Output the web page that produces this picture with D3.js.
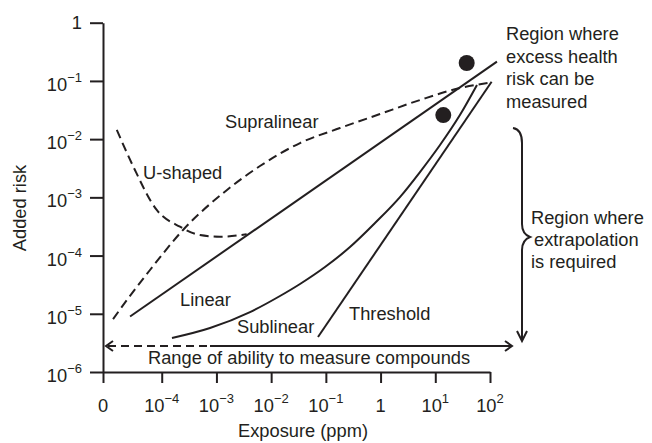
<!DOCTYPE html>
<html><head><meta charset="utf-8">
<script src="https://cdn.jsdelivr.net/npm/d3@7"></script>
<style>
body{margin:0;background:#fff;}
svg{display:block;font-family:"Liberation Sans",Arial,Helvetica,sans-serif;}
</style></head><body>
<svg id="chart" width="652" height="443"></svg>
<script>
// ---- data ----
const xTickValues = [1e-4, 1e-3, 1e-2, 1e-1, 1, 1e1, 1e2];
const xTickBase = ["10", "10", "10", "10", "1", "10", "10"];
const xTickSup  = ["−4", "−3", "−2", "−1", "", "1", "2"];
const yTickValues = [1e-6, 1e-5, 1e-4, 1e-3, 1e-2, 1e-1, 1];
const yTickBase = ["10", "10", "10", "10", "10", "10", "1"];
const yTickSup  = ["−6", "−5", "−4", "−3", "−2", "−1", ""];

const linearX = [2.64e-5, 134];
const linearY = [8.97e-6, 0.214];
const supraX = [1.29e-5, 2.32e-5, 6.11e-5, 2.45e-4, 1.56e-3, 6.25e-3, 0.0337, 0.181, 0.975, 5.25, 28.2, 104];
const supraY = [8.12e-6, 1.73e-5, 5.65e-5, 2.75e-4, 1.34e-3, 3.45e-3, 8.57e-3, 0.0155, 0.0270, 0.0470, 0.0755, 0.0938];
const uX = [1.51e-5, 3.03e-5, 8.11e-5, 2.16e-4, 5.01e-4, 1.16e-3, 3.57e-3];
const uY = [0.0144, 3.36e-3, 6.07e-4, 3.13e-4, 2.25e-4, 2.11e-4, 2.32e-4];
const subX = [1.54e-4, 7.64e-4, 4.11e-3, 0.0145, 0.0337, 0.0964, 0.276, 0.791, 2.26, 5.25, 12.2, 28.2, 57.8];
const subY = [3.84e-6, 5.70e-6, 1.07e-5, 2.02e-5, 3.25e-5, 6.36e-5, 1.40e-4, 3.62e-4, 1.01e-3, 2.72e-3, 7.92e-3, 0.0259, 0.0851];
const threshX = [0.0718, 107];
const threshY = [3.99e-6, 0.0968];
const pointX = [37.5, 14.0];
const pointY = [0.203, 0.0259];

// ---- layout ----
const ink = "#231f20";
const FS = 18.3;
const xOrigin = 8.45e-6; // position of the "0" tick (axis origin)
const svg = d3.select("#chart");
const x = d3.scaleLog().domain([xOrigin, 1e2]).range([103, 490]);
const y = d3.scaleLog().domain([1e-6, 1]).range([372, 22.7]);

// axes
svg.append("g").attr("transform", `translate(0,${y(1e-6)})`)
  .call(d3.axisBottom(x).tickValues([xOrigin, ...xTickValues]).tickSize(11).tickSizeOuter(0).tickFormat(""));
svg.append("g").attr("transform", `translate(${x(xOrigin)},0)`)
  .call(d3.axisLeft(y).tickValues(yTickValues).tickSize(13).tickSizeOuter(0).tickFormat(""));
svg.selectAll(".domain, .tick line").attr("stroke", ink).attr("stroke-width", 2);

// x tick labels
const xl = svg.append("g").attr("fill", ink).attr("font-size", FS).attr("text-anchor", "middle");
xl.append("text").attr("x", x(xOrigin)).attr("y", 411.5).text("0");
xTickValues.forEach((v, i) => {
  const t = xl.append("text").attr("x", x(v)).attr("y", 411.5);
  t.append("tspan").text(xTickBase[i]);
  if (xTickSup[i]) t.append("tspan").attr("dy", -8.5).attr("font-size", 13).text(xTickSup[i]);
});
// y tick labels
const yl = svg.append("g").attr("fill", ink).attr("font-size", FS).attr("text-anchor", "end");
yTickValues.forEach((v, i) => {
  const t = yl.append("text").attr("x", 82).attr("y", y(v) + (yTickSup[i] ? 10 : 6.5));
  t.append("tspan").text(yTickBase[i]);
  if (yTickSup[i]) t.append("tspan").attr("dy", -9).attr("font-size", 13).text(yTickSup[i]);
});

// axis titles
svg.append("text").attr("x", 303).attr("y", 437).attr("text-anchor", "middle")
  .attr("font-size", FS).attr("fill", ink).text("Exposure (ppm)");
svg.append("text").attr("transform", "translate(25.5,208) rotate(-90)").attr("text-anchor", "middle")
  .attr("font-size", FS).attr("fill", ink).text("Added risk");

// curves
const lineGen = d3.line().x(d => x(d[0])).y(d => y(d[1])).curve(d3.curveMonotoneX);
function draw(xs, ys, dashed) {
  svg.append("path").datum(xs.map((v, i) => [v, ys[i]]))
    .attr("d", lineGen).attr("fill", "none").attr("stroke", ink).attr("stroke-width", 2)
    .attr("stroke-dasharray", dashed ? "9,5" : null);
}
draw(supraX, supraY, true);
draw(uX, uY, true);
draw(linearX, linearY, false);
draw(subX, subY, false);
draw(threshX, threshY, false);

// points
svg.selectAll("circle.pt").data(pointX.map((v, i) => [v, pointY[i]])).enter()
  .append("circle").attr("class", "pt").attr("cx", d => x(d[0])).attr("cy", d => y(d[1]))
  .attr("r", 8).attr("fill", ink);

// curve labels
const labels = [
  ["Supralinear", 225, 127.5],
  ["U-shaped", 143, 179],
  ["Linear", 180, 306],
  ["Sublinear", 237, 333],
  ["Threshold", 349, 319.5],
  ["Range of ability to measure compounds", 148, 364]
];
labels.forEach(l => svg.append("text").attr("x", l[1]).attr("y", l[2])
  .attr("font-size", FS).attr("fill", ink).text(l[0]));

// range arrow
const ay = 346, ax0 = 106, axDash = 210, ax1 = 512;
svg.append("line").attr("x1", ax0 + 2).attr("x2", axDash).attr("y1", ay).attr("y2", ay)
  .attr("stroke", ink).attr("stroke-width", 2).attr("stroke-dasharray", "8,5");
svg.append("line").attr("x1", axDash).attr("x2", ax1 - 1).attr("y1", ay).attr("y2", ay)
  .attr("stroke", ink).attr("stroke-width", 2);
svg.append("path").attr("d", `M${ax0 + 7},${ay - 5}L${ax0},${ay}L${ax0 + 7},${ay + 5}`)
  .attr("fill", "none").attr("stroke", ink).attr("stroke-width", 2);
svg.append("path").attr("d", `M${ax1 - 7},${ay - 5}L${ax1},${ay}L${ax1 - 7},${ay + 5}`)
  .attr("fill", "none").attr("stroke", ink).attr("stroke-width", 2);

// brace
const bx = 522;
svg.append("path").attr("d",
  `M513,128 C519,129 ${bx},134 ${bx},143 L${bx},224 C${bx},231 ${bx + 3},235 ${bx + 8},237 ` +
  `C${bx + 3},239 ${bx},243 ${bx},250 L${bx},340`)
  .attr("fill", "none").attr("stroke", ink).attr("stroke-width", 2);
svg.append("path").attr("d", `M${bx - 5},331 L${bx},341 L${bx + 5},331`)
  .attr("fill", "none").attr("stroke", ink).attr("stroke-width", 2);

// annotations
const note1 = ["Region where", "excess health", "risk can be", "measured"];
note1.forEach((s, i) => svg.append("text").attr("x", 506).attr("y", 40 + i * 22.5)
  .attr("font-size", FS).attr("fill", ink).text(s));
const note2 = ["Region where", "extrapolation", "is required"];
const note2x = [531, 534, 531];
note2.forEach((s, i) => svg.append("text").attr("x", note2x[i]).attr("y", 224 + i * 22)
  .attr("font-size", FS).attr("fill", ink).text(s));
</script>
</body></html>
